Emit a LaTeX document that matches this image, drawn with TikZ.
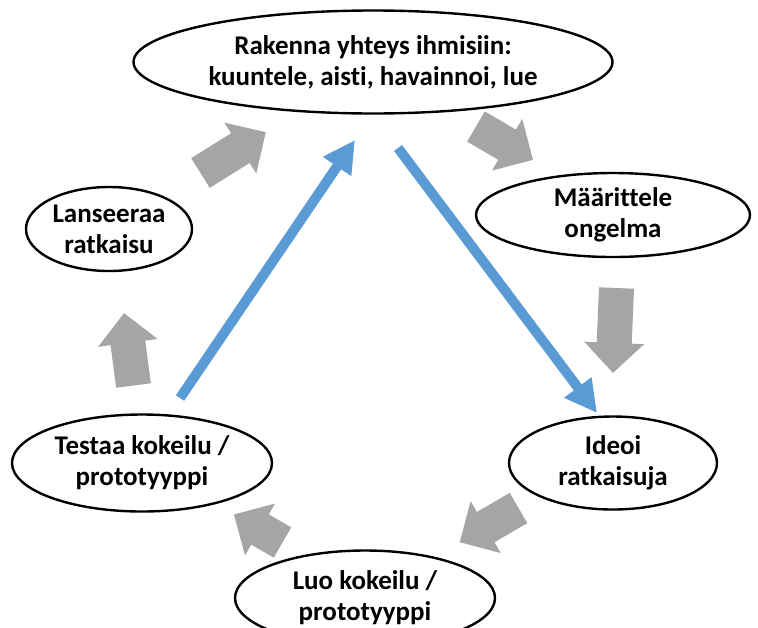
\documentclass[tikz,border=0pt]{standalone}
\usepackage{fontspec}
\setmainfont{Carlito}[Ligatures={NoCommon}]
\usetikzlibrary{arrows.meta,shapes.geometric}
\definecolor{stepgray}{HTML}{A5A5A5}
\definecolor{flowblue}{HTML}{5B9BD5}
\tikzset{
  stage/.style={ellipse, draw=black, line width=1.2pt, fill=white,
    inner sep=0pt, align=center,
    font=\fontsize{13.5}{15.5}\selectfont\bfseries},
  % wide gray block arrow, tail centre at the origin, pointing along +x
  pics/blockarrow/.style={code={
    \fill[stepgray] (0,-17.5) -- ({#1-30},-17.5) -- ({#1-30},-30) -- (#1,0)
      -- ({#1-30},30) -- ({#1-30},17.5) -- (0,17.5) -- cycle;}},
  loopline/.style={draw=flowblue, line width=5pt,
    -{Triangle[length=16pt,width=16pt]}}
}
\begin{document}
\begin{tikzpicture}[x=0.5pt,y=-0.5pt]
\useasboundingbox (0,0) rectangle (758,627);
\clip (0,0) rectangle (758,627);

% cycle steps
\node[stage, minimum width=239.5pt, minimum height=51.5pt] (top) at (373,62)
  {Rakenna yhteys ihmisiin:\\kuuntele, aisti, havainnoi, lue};
\node[stage, minimum width=137pt, minimum height=42pt] (def) at (613,215)
  {Määrittele\\ongelma};
\node[stage, minimum width=104pt, minimum height=46.5pt] (ide) at (613,463)
  {Ideoi\\ratkaisuja};
\node[stage, minimum width=130pt, minimum height=47.5pt] (luo) at (365,598)
  {Luo kokeilu /\\prototyyppi};
\node[stage, minimum width=130pt, minimum height=48.5pt] (tes) at (142,463)
  {Testaa kokeilu /\\prototyyppi};
\node[stage, minimum width=83pt, minimum height=42pt] (lan) at (109,229)
  {Lanseeraa\\ratkaisu};

% gray step arrows around the cycle
\pic[rotate=32]    at (200.5,173)   {blockarrow=77};
\pic[rotate=-30.4] at (476,126.5)   {blockarrow=66};
\pic[rotate=-92.4] at (616.5,288)   {blockarrow=85};
\pic[rotate=210.2] at (518.5,508)   {blockarrow=68};
\pic[rotate=150]   at (282.5,542.5) {blockarrow=56};
\pic[rotate=97.5]  at (133.5,385.5) {blockarrow=73};

% blue iteration loop
\coordinate (upS)   at (180,398);
\coordinate (upE)   at (355,140);
\coordinate (downS) at (398,148);
\coordinate (downE) at (597,413);
\draw[loopline] (upS) -- (upE);
\draw[loopline] (downS) -- (downE);
\end{tikzpicture}
\end{document}
